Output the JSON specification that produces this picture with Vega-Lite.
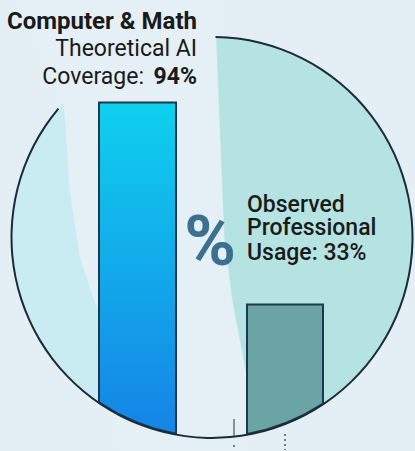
{
  "$schema": "https://vega.github.io/schema/vega-lite/v6.json",
  "width": 415,
  "height": 451,
  "autosize": {"type": "fit", "contains": "padding"},
  "padding": 0,
  "background": "#e3eff5",
  "config": {"view": {"stroke": null}},
  "datasets": {
    "circle": [
      {"part": "pale", "x": 212, "y": 53.28, "start": 0, "end": 360},
      {"part": "teal", "x": 212, "y": 53.28, "start": 1, "end": 170},
      {"part": "outline", "x": 212, "y": 53.28, "start": 1, "end": 310}
    ],
    "gap": [
      {"i": 1, "x": 63, "y": 94.59},
      {"i": 2, "x": 20, "y": 124.64},
      {"i": 3, "x": 216, "y": 124.64},
      {"i": 4, "x": 216, "y": 113.52},
      {"i": 5, "x": 220, "y": 82.57},
      {"i": 6, "x": 224, "y": 53.43},
      {"i": 7, "x": 232, "y": 34.5},
      {"i": 8, "x": 247, "y": 10.46},
      {"i": 9, "x": 247, "y": -4.57},
      {"i": 10, "x": 244, "y": -10.88},
      {"i": 11, "x": 120, "y": -10.88},
      {"i": 12, "x": 99, "y": 30.89},
      {"i": 13, "x": 93, "y": 35.4},
      {"i": 14, "x": 80, "y": 47.42},
      {"i": 15, "x": 70, "y": 67.55},
      {"i": 16, "x": 66, "y": 85.58}
    ],
    "bars": [
      {"series": "Theoretical AI Coverage", "x": 99, "y": 94, "y2": 3.52},
      {"series": "Theoretical AI Coverage", "x": 118, "y": 94, "y2": 0.06},
      {"series": "Theoretical AI Coverage", "x": 137, "y": 94, "y2": -2.58},
      {"series": "Theoretical AI Coverage", "x": 156, "y": 94, "y2": -4.57},
      {"series": "Theoretical AI Coverage", "x": 176, "y": 94, "y2": -5.98},
      {"series": "Observed Professional Usage", "x": 247, "y": 33, "y2": -6.04},
      {"series": "Observed Professional Usage", "x": 266, "y": 33, "y2": -4.75},
      {"series": "Observed Professional Usage", "x": 285, "y": 33, "y2": -2.82},
      {"series": "Observed Professional Usage", "x": 304, "y": 33, "y2": -0.24},
      {"series": "Observed Professional Usage", "x": 323, "y": 33, "y2": 3.09}
    ],
    "labels": [
      {"role": "title", "x": 197, "y": 116.23, "text": "Computer & Math"},
      {"role": "sub", "x": 197, "y": 108.11, "text": "Theoretical AI"},
      {"role": "sub", "x": 144, "y": 99.7, "text": "Coverage:"},
      {"role": "num", "x": 197, "y": 99.7, "text": "94%"},
      {"role": "obs", "x": 247, "y": 60.97, "text": "Observed"},
      {"role": "obs", "x": 247, "y": 53.94, "text": "Professional"},
      {"role": "obs", "x": 247, "y": 46.51, "text": "Usage: 33%"},
      {"role": "pct", "x": 210, "y": 45.07, "text": "%"}
    ],
    "ticks": [
      {"tick": "a", "x": 234, "y": -1.56, "y2": -6.67},
      {"tick": "b", "x": 234, "y": -9.38, "y2": -10.88},
      {"tick": "c", "x": 285, "y": -6.07, "y2": -10.88}
    ]
  },
  "encoding": {
    "x": {"field": "x", "type": "quantitative", "scale": {"domain": [0, 415], "nice": false, "zero": false}, "axis": null},
    "y": {"field": "y", "type": "quantitative", "scale": {"domain": [-10.88, 124.64], "nice": false, "zero": false}, "axis": null}
  },
  "layer": [
    {
      "data": {"name": "circle"},
      "transform": [{"filter": "datum.part === 'pale'"}],
      "mark": {"type": "arc", "outerRadius": 200.5, "innerRadius": 0, "fill": "#c8ecf2"},
      "encoding": {
        "theta": {"field": "start", "type": "quantitative", "stack": null, "scale": {"domain": [0, 360], "range": [0, 6.283185]}},
        "theta2": {"field": "end"}
      }
    },
    {
      "data": {"name": "circle"},
      "transform": [{"filter": "datum.part === 'teal'"}],
      "mark": {"type": "arc", "outerRadius": 200.5, "innerRadius": 0, "fill": "#b5e3e1"},
      "encoding": {
        "theta": {"field": "start", "type": "quantitative", "stack": null, "scale": {"domain": [0, 360], "range": [0, 6.283185]}},
        "theta2": {"field": "end"}
      }
    },
    {
      "data": {"name": "gap"},
      "mark": {"type": "line", "fill": "#e4f0f6", "stroke": "#e4f0f6", "strokeWidth": 0.5},
      "encoding": {"order": {"field": "i", "type": "quantitative"}}
    },
    {
      "data": {"name": "bars"},
      "transform": [{"filter": "datum.series === 'Theoretical AI Coverage'"}],
      "mark": {
        "type": "area",
        "color": {"gradient": "linear", "x1": 0, "y1": 0, "x2": 0, "y2": 1, "stops": [{"offset": 0, "color": "#0fd0ee"}, {"offset": 1, "color": "#1584e6"}]},
        "stroke": "#1d3a4c",
        "strokeWidth": 2
      },
      "encoding": {"y2": {"field": "y2"}}
    },
    {
      "data": {"name": "bars"},
      "transform": [{"filter": "datum.series === 'Observed Professional Usage'"}],
      "mark": {"type": "area", "color": "#6aa4a5", "stroke": "#1d3a4c", "strokeWidth": 2},
      "encoding": {"y2": {"field": "y2"}}
    },
    {
      "data": {"name": "circle"},
      "transform": [{"filter": "datum.part === 'outline'"}],
      "mark": {"type": "arc", "outerRadius": 201.5, "innerRadius": 199.5, "fill": "#1b2b38"},
      "encoding": {
        "theta": {"field": "start", "type": "quantitative", "stack": null, "scale": {"domain": [0, 360], "range": [0, 6.283185]}},
        "theta2": {"field": "end"}
      }
    },
    {
      "data": {"name": "labels"},
      "transform": [{"filter": "datum.role === 'pct'"}],
      "mark": {"type": "text", "font": "Roboto", "fontWeight": "bold", "fontSize": 70, "align": "center", "baseline": "alphabetic", "color": "#3b7090"},
      "encoding": {"text": {"field": "text"}}
    },
    {
      "data": {"name": "labels"},
      "transform": [{"filter": "datum.role === 'title'"}],
      "mark": {"type": "text", "font": "Roboto", "fontWeight": "bold", "fontSize": 24, "align": "right", "baseline": "alphabetic", "color": "#1a1a1a"},
      "encoding": {"text": {"field": "text"}}
    },
    {
      "data": {"name": "labels"},
      "transform": [{"filter": "datum.role === 'num'"}],
      "mark": {"type": "text", "font": "Roboto", "fontWeight": "bold", "fontSize": 23, "align": "right", "baseline": "alphabetic", "color": "#1a1a1a"},
      "encoding": {"text": {"field": "text"}}
    },
    {
      "data": {"name": "labels"},
      "transform": [{"filter": "datum.role === 'sub'"}],
      "mark": {"type": "text", "font": "Roboto", "fontWeight": "normal", "fontSize": 23, "align": "right", "baseline": "alphabetic", "color": "#1a1a1a"},
      "encoding": {"text": {"field": "text"}}
    },
    {
      "data": {"name": "labels"},
      "transform": [{"filter": "datum.role === 'obs'"}],
      "mark": {"type": "text", "font": "Roboto", "fontWeight": 500, "fontSize": 23, "align": "left", "baseline": "alphabetic", "color": "#1a1a1a"},
      "encoding": {"text": {"field": "text"}}
    },
    {
      "data": {"name": "ticks"},
      "transform": [{"filter": "datum.tick === 'a'"}],
      "mark": {"type": "rule", "color": "#4a5560", "strokeWidth": 1.2},
      "encoding": {"y2": {"field": "y2"}}
    },
    {
      "data": {"name": "ticks"},
      "transform": [{"filter": "datum.tick !== 'a'"}],
      "mark": {"type": "rule", "color": "#4a5560", "strokeWidth": 1.5, "strokeDash": [2, 3]},
      "encoding": {"y2": {"field": "y2"}}
    }
  ]
}
